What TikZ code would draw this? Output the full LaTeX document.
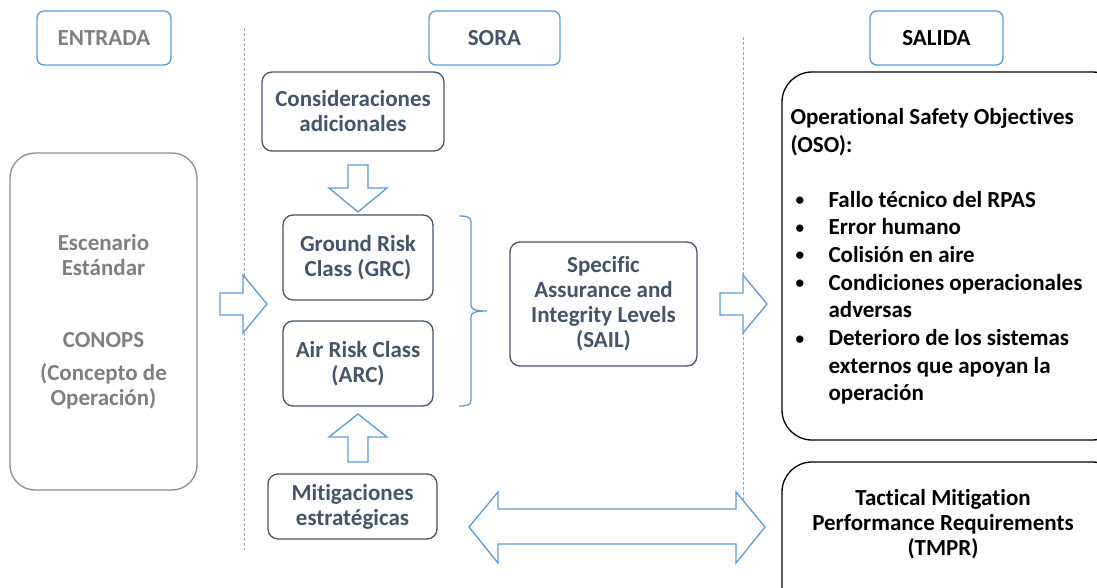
\documentclass[tikz,border=0pt]{standalone}
\usepackage{fontspec}
\setmainfont{Carlito}[Ligatures=CommonOff]
\definecolor{hdrblue}{HTML}{5B9BD5}
\definecolor{slate}{HTML}{44546A}
\definecolor{greytxt}{HTML}{7F7F7F}
\newcommand{\osobul}{\makebox[38pt][l]{\hspace*{5pt}\raisebox{1.5pt}{\scalebox{0.75}{\textbullet}}}}
\begin{document}
\begin{tikzpicture}[x=1pt,y=-1pt,
  txt/.style={font=\fontsize{23}{25}\selectfont\bfseries, align=center},
  hdr/.style={draw=hdrblue, line width=1.3pt, rounded corners=7pt, txt},
  sorabox/.style={draw=slate, line width=1.3pt, rounded corners=10pt, txt, text=slate},
  blockarrow/.style={draw=hdrblue, line width=1.3pt, fill=white, line join=miter},
  sep/.style={draw=gray!70, line width=0.7pt, dash pattern=on 3pt off 2pt},
  brace/.style={draw=hdrblue, line width=1.3pt}]
\useasboundingbox (0,0) rectangle (1097,588);
\clip (0,0) rectangle (1097,588);

% separators
\coordinate (s1t) at (244,28); \coordinate (s1b) at (244,550);
\coordinate (s2t) at (743,37); \coordinate (s2b) at (743,550);
\draw[sep] (s1t) -- (s1b);
\draw[sep] (s2t) -- (s2b);

% headers
\node[hdr, text=greytxt, minimum width=134pt, minimum height=54pt] (entrada) at (104,38) {ENTRADA};
\node[hdr, text=slate, minimum width=131pt, minimum height=54pt] (sora) at (494.5,38) {SORA};
\node[hdr, text=black, minimum width=133pt, minimum height=54pt] (salida) at (936.5,38) {SALIDA};

% left box
\node[draw=greytxt!90, line width=1.3pt, rounded corners=25pt, minimum width=187pt, minimum height=337pt] (conops) at (103.5,321.5) {};
\node[txt, text=greytxt] (conopstxt) at (103.5,322) {Escenario\\Estándar\\[47pt]CONOPS\\[8pt](Concepto de\\Operación)};

% SORA boxes
\node[sorabox, minimum width=182pt, minimum height=79pt] (consid) at (353,111.5) {Consideraciones\\adicionales};
\node[sorabox, minimum width=150pt, minimum height=85pt] (grc) at (358,257.5) {Ground Risk\\Class (GRC)};
\node[sorabox, minimum width=150pt, minimum height=85pt] (arc) at (358,363.5) {Air Risk Class\\(ARC)};
\node[sorabox, minimum width=187pt, minimum height=124pt] (sail) at (603.5,304) {Specific\\Assurance and\\Integrity Levels\\(SAIL)};
\node[sorabox, minimum width=169pt, minimum height=65pt] (mitig) at (352.5,506.5) {Mitigaciones\\estratégicas};

% right boxes
\node[draw=black, line width=1.3pt, rounded corners=30pt, minimum width=340pt, minimum height=368pt] (oso) at (952,256) {};
\node[txt, align=left, anchor=north west, font=\fontsize{23}{27.7}\selectfont\bfseries] (osotxt) at (787,105)
 {Operational Safety Objectives\\(OSO):\\[27pt]
  \osobul Fallo técnico del RPAS\\
  \osobul Error humano\\
  \osobul Colisión en aire\\
  \osobul Condiciones operacionales\\
  \hspace*{38pt}adversas\\
  \osobul Deterioro de los sistemas\\
  \hspace*{38pt}externos que apoyan la\\
  \hspace*{38pt}operación};
\node[draw=black, line width=1.3pt, rounded corners=30pt, minimum width=340pt, minimum height=160pt] (tmprbox) at (952,542) {};
\node[txt] (tmpr) at (943,524.5) {Tactical Mitigation\\Performance Requirements\\(TMPR)};

% block arrows
\draw[blockarrow] (220,293) -- (243,293) -- (243,275) -- (267,304) -- (243,333) -- (243,315) -- (220,315) -- cycle;
\draw[blockarrow] (720,293) -- (743,293) -- (743,275) -- (767,304) -- (743,333) -- (743,315) -- (720,315) -- cycle;
\draw[blockarrow] (348,165) -- (368,165) -- (368,188) -- (387,188) -- (358,212) -- (329,188) -- (348,188) -- cycle;
\draw[blockarrow] (348,462) -- (368,462) -- (368,437) -- (387,437) -- (358,414) -- (329,437) -- (348,437) -- cycle;
\draw[blockarrow] (469,527) -- (498,492) -- (498,509) -- (736,509) -- (736,492) -- (765,527) -- (736,563) -- (736,544) -- (498,544) -- (498,563) -- cycle;

% brace
\draw[brace] (459,216) .. controls (467,216) and (471,217) .. (471,222) -- (471,305)
  .. controls (471,309) and (474,311) .. (487,311)
  .. controls (474,311) and (471,313) .. (471,317) -- (471,400)
  .. controls (471,405) and (467,406) .. (459,406);
\end{tikzpicture}
\end{document}
